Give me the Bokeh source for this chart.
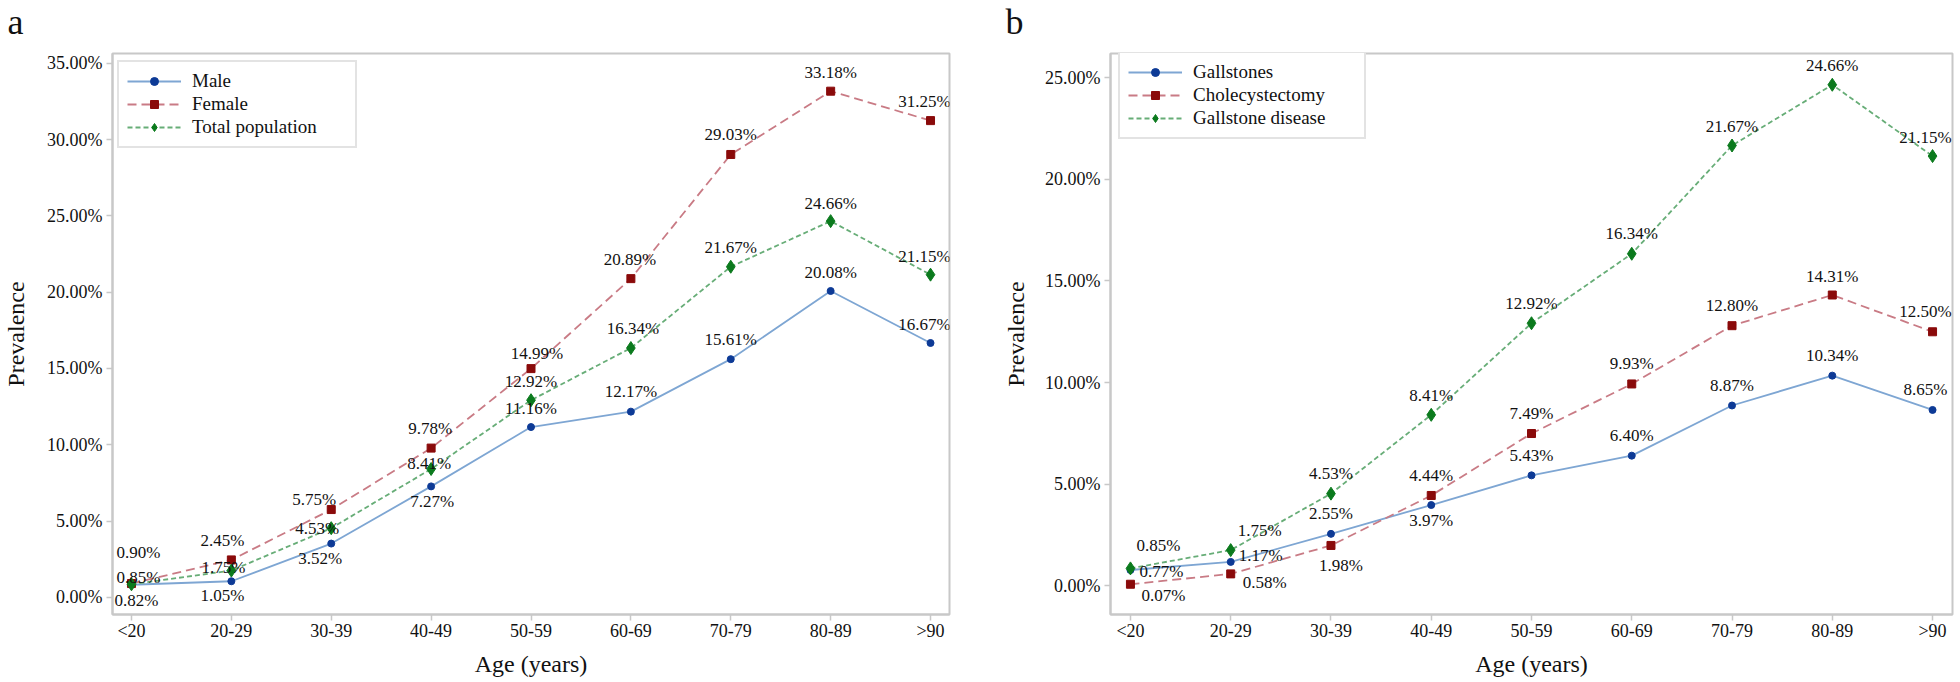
import numpy as np
from bokeh.plotting import figure
from bokeh.models import (ColumnDataSource, FixedTicker, PrintfTickFormatter, Legend,
                          LegendItem, LabelSet, Range1d)
from bokeh.layouts import row, column
from bokeh.embed import file_html
from bokeh.resources import INLINE
from bokeh.core.properties import value

# ---------------- data ----------------
ages = ["<20", "20-29", "30-39", "40-49", "50-59", "60-69", "70-79", "80-89", ">90"]

male = [0.82, 1.05, 3.52, 7.27, 11.16, 12.17, 15.61, 20.08, 16.67]
female = [0.90, 2.45, 5.75, 9.78, 14.99, 20.89, 29.03, 33.18, 31.25]
total_pop = [0.85, 1.75, 4.53, 8.41, 12.92, 16.34, 21.67, 24.66, 21.15]

gallstones = [0.77, 1.17, 2.55, 3.97, 5.43, 6.40, 8.87, 10.34, 8.65]
cholecystectomy = [0.07, 0.58, 1.98, 4.44, 7.49, 9.93, 12.80, 14.31, 12.50]
gallstone_disease = [0.85, 1.75, 4.53, 8.41, 12.92, 16.34, 21.67, 24.66, 21.15]

yticks_a = [0, 5, 10, 15, 20, 25, 30, 35]
yticks_b = [0, 5, 10, 15, 20, 25]

panel_letters = ["a", "b"]

# label offsets in pixels (dx, dy; dy>0 is downward on screen)
off_male = [(5, 16), (-9, 14), (-11, 15), (1, 15), (0, -19), (0, -20), (0, -20), (0, -18), (-6, -18)]
off_female = [(7, -31), (-9, -19), (-17, -10), (-1, -20), (6, -15), (-1, -19), (0, -20), (0, -19), (-6, -19)]
off_total = [(7, -7), (-8, -3), (-14, 0), (-2, -5), (0, -19), (2, -20), (0, -19), (0, -18), (-6, -18)]

off_gall = [(31, 1), (30, -6), (0, -20), (0, 15), (0, -20), (0, -20), (0, -20), (0, -20), (-7, -20)]
off_chole = [(33, 11), (34, 9), (10, 20), (0, -20), (0, -20), (0, -20), (0, -20), (0, -19), (-7, -20)]
off_dis = [(28, -23), (29, -20), (0, -20), (0, -19), (0, -20), (0, -20), (0, -19), (0, -19), (-7, -19)]

FONT = "Liberation Serif"
GREY = "#c8c8c8"
INK = "#111111"
TOP_STRIP = 44

styles = [
    dict(line="#7ea6d3", mark="#0d3a96", dash="solid", marker="circle", size=7),
    dict(line="#c97b85", mark="#8a0a0a", dash="9 5", marker="square", size=8),
    dict(line="#67ad77", mark="#0b7a1d", dash="5 3", marker="diamond", size=13),
]


def make_panel(series, names, offsets, yticks, yr, xr, w, h, borders,
               legend_pos, label_width, ytitle_standoff):
    bl, br, bt, bb = borders
    p = figure(width=w, height=h, output_backend="svg", toolbar_location=None,
               x_range=Range1d(*xr), y_range=Range1d(*yr),
               min_border_left=bl, min_border_right=br, min_border_top=bt,
               min_border_bottom=bb)
    p.background_fill_color = "white"
    p.border_fill_color = "white"
    p.outline_line_color = GREY
    p.outline_line_width = 2
    p.xgrid.visible = False
    p.ygrid.visible = False

    xs = np.arange(len(ages))
    items = []
    for vals, name, off, st in zip(series, names, offsets, styles):
        src = ColumnDataSource(dict(
            x=xs, y=vals,
            t=["%.2f%%" % v for v in vals],
            dx=[o[0] for o in off], dy=[-o[1] for o in off]))
        lr = p.line("x", "y", source=src, line_color=st["line"], line_width=1.8,
                    line_dash=st["dash"])
        sr = p.scatter("x", "y", source=src, marker=st["marker"], size=st["size"],
                       fill_color=st["mark"], line_color=st["mark"])
        labels = LabelSet(x="x", y="y", text="t", source=src, x_offset="dx", y_offset="dy",
                          text_align="center", text_baseline="middle",
                          text_font=FONT, text_font_size="17px", text_color=INK)
        p.add_layout(labels)
        items.append(LegendItem(label=name, renderers=[lr, sr]))

    leg = Legend(items=items, location=legend_pos,
                 label_text_font=FONT, label_text_font_size="19px",
                 label_text_color=INK,
                 glyph_width=54, glyph_height=20, label_height=20, label_width=label_width,
                 spacing=1, padding=8, margin=0, label_standoff=11,
                 border_line_color=GREY, border_line_width=2,
                 background_fill_color="white", background_fill_alpha=1)
    p.add_layout(leg, "center")

    for ax in (p.xaxis, p.yaxis):
        ax.axis_line_color = GREY
        ax.axis_line_width = 2
        ax.major_tick_line_color = GREY
        ax.major_tick_line_width = 1.5
        ax.major_tick_out = 6
        ax.major_tick_in = 0
        ax.minor_tick_line_color = None
        ax.major_label_text_font = FONT
        ax.major_label_text_font_size = "18px"
        ax.major_label_text_color = INK
        ax.axis_label_text_font = FONT
        ax.axis_label_text_font_size = "24px"
        ax.axis_label_text_font_style = "normal"
        ax.axis_label_text_color = INK

    p.xaxis.ticker = FixedTicker(ticks=list(range(len(ages))))
    p.xaxis.major_label_overrides = {i: a for i, a in enumerate(ages)}
    p.xaxis.major_label_standoff = 0
    p.xaxis.axis_label = "Age (years)"
    p.xaxis.axis_label_standoff = 7

    p.yaxis.ticker = FixedTicker(ticks=yticks)
    p.yaxis.formatter = PrintfTickFormatter(format="%.2f%%")
    p.yaxis.major_label_standoff = 4
    p.yaxis.axis_label = "Prevalence"
    p.yaxis.axis_label_standoff = ytitle_standoff
    return p


# strip above the two panels holding the panel letters (page pixels = data units)
strip = figure(width=1960, height=TOP_STRIP, output_backend="svg", toolbar_location=None,
               x_range=Range1d(0, 1960), y_range=Range1d(TOP_STRIP, 0),
               x_axis_type=None, y_axis_type=None, min_border=0)
strip.outline_line_color = None
strip.xgrid.visible = False
strip.ygrid.visible = False
strip.text(x=[7, 1005], y=[1, 1], text=panel_letters, text_font=value(FONT),
           text_font_size="36px", text_color=INK, text_baseline="top",
           text_align="left")

H = 682 - TOP_STRIP
pa = make_panel([male, female, total_pop], ["Male", "Female", "Total population"],
                [off_male, off_female, off_total], yticks_a, (-1.13, 35.65),
                (-0.19, 8.19), 1000, H, (111, 51, 52 - TOP_STRIP, 68), (5, 466),
                155, 15)
pb = make_panel([gallstones, cholecystectomy, gallstone_disease],
                ["Gallstones", "Cholecystectomy", "Gallstone disease"],
                [off_gall, off_chole, off_dis], yticks_b, (-1.42, 26.2),
                (-0.199, 8.199), 960, H, (108, 8, 53 - TOP_STRIP, 64), (8, 475),
                163, 13)

layout = column(strip, row(pa, pb, spacing=0), spacing=0)
open("out.html", "w").write(file_html(layout, INLINE))
